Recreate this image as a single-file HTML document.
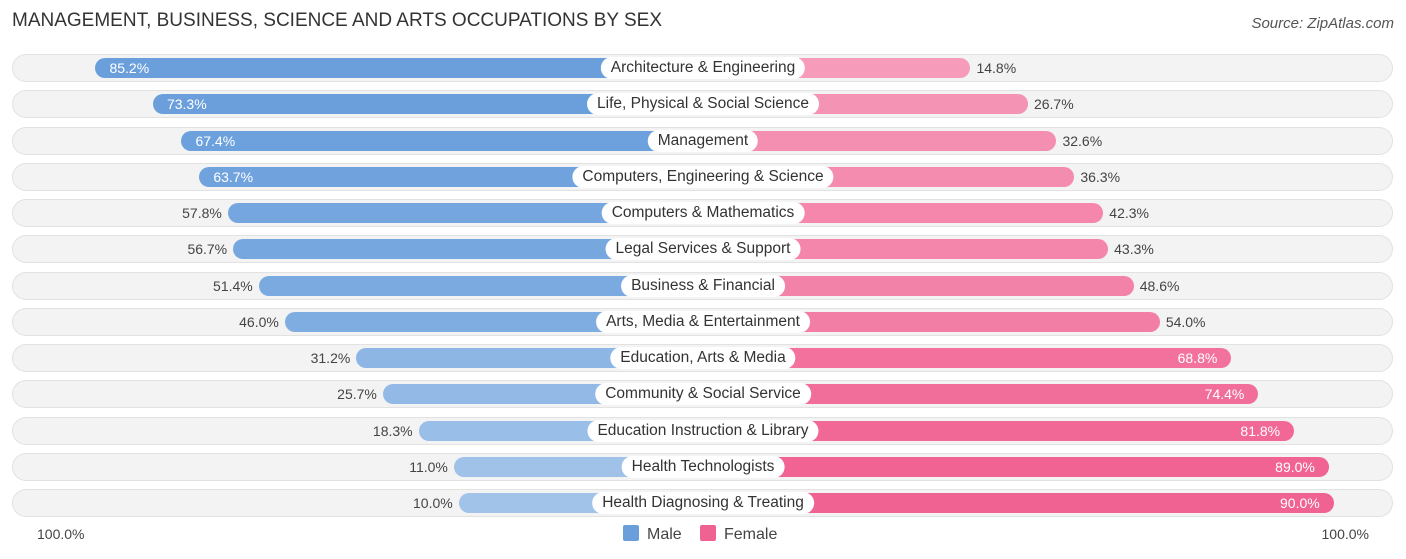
<!DOCTYPE html>
<html><head><meta charset="utf-8"><style>
body{margin:0;background:#fff;font-family:"Liberation Sans",sans-serif;}
#c{position:relative;width:1406px;height:559px;overflow:hidden}
.t{position:absolute;left:12px;top:10px;font-size:19px;color:#333}
.src{position:absolute;right:12px;top:15px;font-size:15px;color:#555;font-style:italic}
.row{position:absolute;left:12px;width:1381px;height:28px;border-radius:14px;background:#f3f3f3;box-shadow:inset 0 0 0 1px #e2e2e2}
.bar{position:absolute;height:20px;border-radius:10px}
.lab{position:absolute;height:22px;line-height:22px;padding:0 10px;background:#fff;border-radius:11px;font-size:15.5px;color:#333;transform:translateX(-50%);white-space:nowrap}
.v{position:absolute;font-size:14px;line-height:20px;color:#444}
.ax{position:absolute;top:526px;font-size:14px;color:#444}
.lg{position:absolute;top:525px;font-size:16px;color:#444}
.sw{display:inline-block;width:16px;height:16px;vertical-align:-2px;margin-right:8px;border-radius:2px}
</style></head><body>
<div id="c">
<div class="t">MANAGEMENT, BUSINESS, SCIENCE AND ARTS OCCUPATIONS BY SEX</div>
<div class="src">Source: ZipAtlas.com</div>
<div class="ax" style="left:37px">100.0%</div>
<div class="ax" style="right:37px">100.0%</div>
<div class="lg" style="left:623px"><span class="sw" style="background:#6a9fdc"></span>Male</div>
<div class="lg" style="left:700px"><span class="sw" style="background:#f06292"></span>Female</div>
</div>
<script>
const categories=["Architecture & Engineering","Life, Physical & Social Science","Management","Computers, Engineering & Science","Computers & Mathematics","Legal Services & Support","Business & Financial","Arts, Media & Entertainment","Education, Arts & Media","Community & Social Service","Education Instruction & Library","Health Technologists","Health Diagnosing & Treating"];
const male=[85.2,73.3,67.4,63.7,57.8,56.7,51.4,46.0,31.2,25.7,18.3,11.0,10.0];
const female=[14.8,26.7,32.6,36.3,42.3,43.3,48.6,54.0,68.8,74.4,81.8,89.0,90.0];
const cx=703,off=196,k=4.83;
function len(v){return off+k*v;}
function rowY(i){return 68+i*36.25;}
function mix(a,b,t){return 'rgb('+a.map((x,j)=>Math.round(x+(b[j]-x)*t)).join(',')+')';}
const c=document.getElementById('c');
categories.forEach((cat,i)=>{
  const y=rowY(i);
  const r=document.createElement('div');r.className='row';r.style.top=(y-14)+'px';
  
  
  c.appendChild(r);
  const m=document.createElement('div');m.className='bar';
  const ml=len(male[i]);m.style.left=(cx-ml)+'px';m.style.width=ml+'px';m.style.top=(y-10)+'px';
  m.style.background=mix([170,201,236],[106,159,220],Math.min(1,male[i]/70));
  
  
  c.appendChild(m);
  const f=document.createElement('div');f.className='bar';
  const fl=len(female[i]);f.style.left=cx+'px';f.style.width=fl+'px';f.style.top=(y-10)+'px';
  f.style.background=mix([247,168,194],[240,98,146],Math.min(1,female[i]/90));
  
  
  c.appendChild(f);
  const mv=document.createElement('div');mv.className='v';mv.textContent=male[i].toFixed(1)+'%';mv.style.top=(y-10)+'px';
  if(male[i]>60){mv.style.left=(cx-ml+14)+'px';mv.style.color='#fff';}else{mv.style.right=(1406-(cx-ml)+6)+'px';}
  
  
  c.appendChild(mv);
  const fv=document.createElement('div');fv.className='v';fv.textContent=female[i].toFixed(1)+'%';fv.style.top=(y-10)+'px';
  if(female[i]>60){fv.style.right=(1406-(cx+fl)+14)+'px';fv.style.color='#fff';}else{fv.style.left=(cx+fl+6)+'px';}
  
  
  c.appendChild(fv);
  const l=document.createElement('div');l.className='lab';l.textContent=cat;l.style.left=cx+'px';l.style.top=(y-11)+'px';
  
  
  c.appendChild(l);
});
</script>
</body></html>
